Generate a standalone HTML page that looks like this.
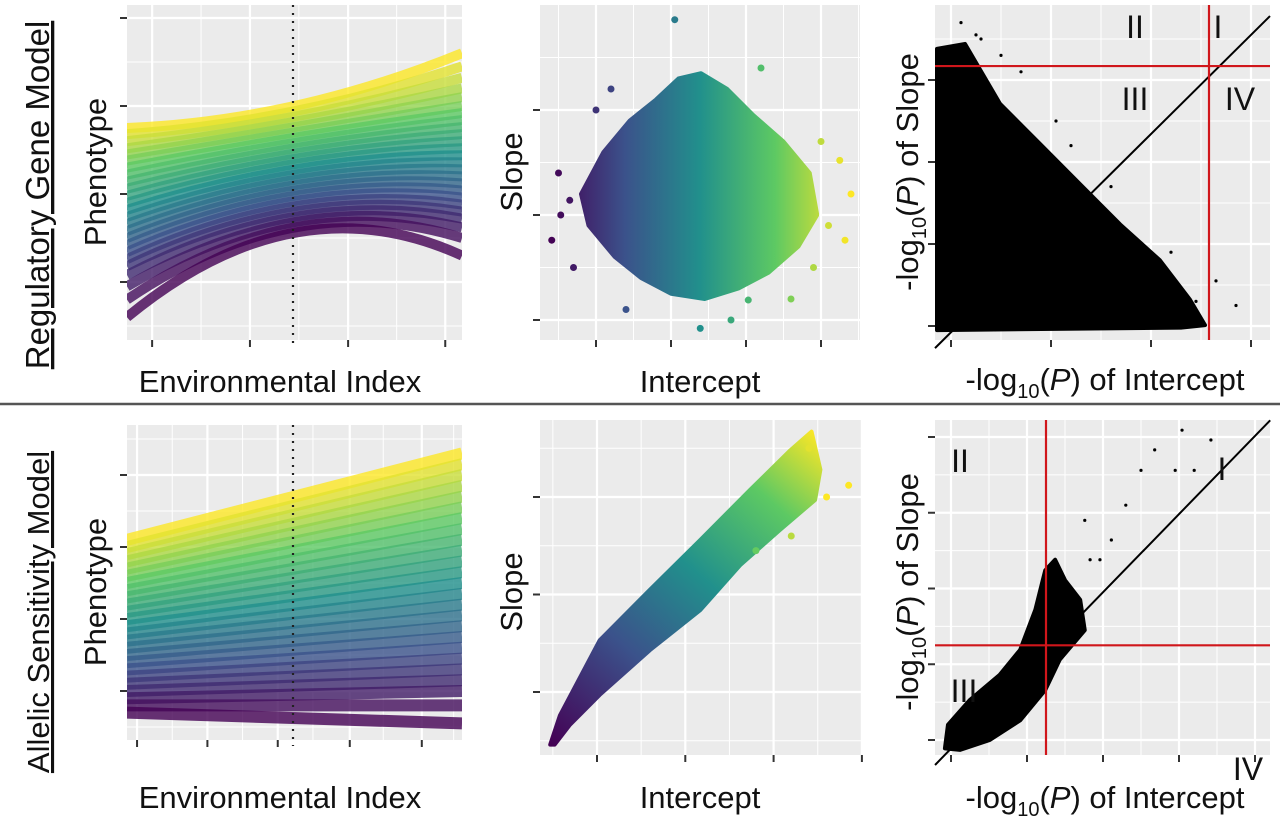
<!DOCTYPE html>
<html><head><meta charset="utf-8"><style>
html,body{margin:0;padding:0;background:#fff}
svg{display:block;font-family:"Liberation Sans",sans-serif}
</style></head><body>
<svg id="fig" width="1280" height="819" viewBox="0 0 1280 819">
<defs>
<linearGradient id="gB" x1="550" y1="0" x2="850" y2="0" gradientUnits="userSpaceOnUse">
<stop offset="0" stop-color="#440154"/><stop offset="0.25" stop-color="#3b528b"/><stop offset="0.5" stop-color="#21908c"/><stop offset="0.75" stop-color="#5dc963"/><stop offset="1" stop-color="#fde725"/></linearGradient>
<linearGradient id="gE" x1="550" y1="745" x2="820" y2="435" gradientUnits="userSpaceOnUse">
<stop offset="0" stop-color="#440154"/><stop offset="0.3" stop-color="#3b528b"/><stop offset="0.55" stop-color="#21908c"/><stop offset="0.8" stop-color="#5dc963"/><stop offset="1" stop-color="#fde725"/></linearGradient>
</defs>
</svg>
<script>
// ---- data ----
const aMid=[2.0,1.94,1.88,1.82,1.76,1.7,1.64,1.58,1.52,1.46,1.4,1.34,1.28,1.22,1.16,1.1,1.04,0.98,0.92,0.86,0.8,0.74,0.68,0.62,0.56];
const aLeft=[1.75,1.68,1.6,1.52,1.45,1.38,1.3,1.22,1.14,1.06,0.98,0.9,0.82,0.74,0.66,0.58,0.5,0.42,0.34,0.26,0.18,0.08,-0.05,-0.2,-0.4];
const aRight=[2.6,2.45,2.32,2.2,2.1,2.0,1.92,1.84,1.76,1.68,1.6,1.52,1.44,1.36,1.28,1.2,1.12,1.04,0.96,0.88,0.8,0.72,0.62,0.5,0.3];
const dLeft=[2.1,2.0,1.9,1.8,1.7,1.6,1.5,1.4,1.3,1.2,1.1,1.0,0.9,0.8,0.7,0.6,0.5,0.4,0.3,0.2,0.1,0.0,-0.1,-0.2,-0.3];
const dRight=[3.3,3.15,3.0,2.85,2.7,2.55,2.4,2.25,2.1,1.95,1.8,1.65,1.5,1.35,1.2,1.05,0.9,0.75,0.6,0.45,0.3,0.15,0.0,-0.2,-0.45];
const bHullX=[-0.2,0.1,0.45,0.8,1.1,1.4,1.75,2.1,2.5,2.85,2.95,2.7,2.3,1.9,1.45,1.0,0.6,0.25,-0.1];
const bHullY=[1.2,1.6,1.9,2.1,2.3,2.35,2.2,1.95,1.7,1.4,1.0,0.7,0.45,0.3,0.2,0.25,0.4,0.6,0.9];
const bOutX=[1.05,-0.59,-0.35,3.32,3.25,2.03,1.39,-0.47,3.1,-0.5,0.2,2.9,3.0,2.6,0.4,1.8,-0.3,3.4,2.2,0.0];
const bOutY=[2.86,0.76,1.14,0.76,1.52,0.19,-0.08,1.0,0.9,1.4,2.2,0.5,1.7,0.2,0.1,0.0,0.5,1.2,2.4,2.0];
const eHullX=[-0.53,-0.42,0.03,0.6,1.17,1.73,2.19,2.43,2.53,2.47,2.07,1.62,1.17,0.6,0.03,-0.31,-0.48];
const eHullY=[-0.54,-0.24,0.53,1.05,1.56,2.07,2.48,2.67,2.28,1.97,1.66,1.30,0.84,0.43,-0.03,-0.34,-0.54];
const eOutX=[2.85,2.4,2.2,1.8,2.6];
const eOutY=[2.12,2.5,1.6,1.45,2.0];
const cHullX=[-0.14,0.14,0.49,0.89,1.29,1.69,2.09,2.39,2.54,2.3,-0.14];
const cHullY=[3.38,3.44,2.71,2.22,1.73,1.24,0.8,0.32,0.01,-0.02,-0.05];
const cOutX=[0.3,0.5,0.7,1.2,1.6,1.9,2.2,2.45,2.65,2.85,0.1,0.25,1.05];
const cOutY=[3.5,3.3,3.1,2.2,1.7,1.0,0.9,0.3,0.55,0.25,3.7,3.55,2.5];
const cDiagX=[-0.16,3.19], cDiagY=[-0.27,3.78], cRedX=2.58, cRedY=3.17;
const fHullX=[-0.08,-0.04,0.25,0.64,0.91,1.11,1.24,1.37,1.5,1.7,1.76,1.43,1.24,0.91,0.51,0.12];
const fHullY=[-0.11,0.2,0.53,0.86,1.19,1.72,2.24,2.38,2.11,1.85,1.45,1.06,0.66,0.26,0.0,-0.13];
const fOutX=[1.64,1.83,2.11,2.3,2.5,2.68,2.95,3.2,3.42,3.04,1.96,1.76];
const fOutY=[1.85,2.38,2.64,3.1,3.56,3.83,3.56,3.56,3.96,4.09,2.38,2.9];
const fDiagX=[-0.21,4.2], fDiagY=[-0.33,4.22], fRedX=1.25, fRedY=1.25;

const NS='http://www.w3.org/2000/svg', svg=document.getElementById('fig');
function mk(t,a,p){const e=document.createElementNS(NS,t);for(const k in a)e.setAttribute(k,a[k]);(p||svg).appendChild(e);return e;}
const stops=[[68,1,84],[59,82,139],[33,144,140],[93,201,99],[253,231,37]];
function vir(t){t=Math.max(0,Math.min(1,t))*4;const i=Math.min(3,Math.floor(t)),f=t-i,a=stops[i],b=stops[i+1];return `rgb(${a.map((v,j)=>Math.round(v+(b[j]-v)*f)).join(',')})`;}
function lin(d0,d1,r0,r1){return v=>r0+(v-d0)/(d1-d0)*(r1-r0);}

function panel(name,x0,x1,y0,y1,xs,ys,xt,yt){
  const g=mk('g',{});
  mk('rect',{x:x0,y:y0,width:x1-x0,height:y1-y0,fill:'#ebebeb'},g);
  const xp=xt.map(xs),yp=yt.map(ys);
  const dx=xp[1]-xp[0],dy=yp[1]-yp[0];
  for(let k=-2;k<xp.length+2;k++){const m=xp[0]+dx*(k+0.5);if(m>x0&&m<x1)mk('line',{x1:m,x2:m,y1:y0,y2:y1,stroke:'#fff','stroke-width':1},g);}
  for(let k=-2;k<yp.length+2;k++){const m=yp[0]+dy*(k+0.5);if(m>y0&&m<y1)mk('line',{y1:m,y2:m,x1:x0,x2:x1,stroke:'#fff','stroke-width':1},g);}
  xp.forEach(p=>{if(p>=x0&&p<=x1)mk('line',{x1:p,x2:p,y1:y0,y2:y1,stroke:'#fff','stroke-width':2.2},g);mk('line',{x1:p,x2:p,y1:y1,y2:y1+7,stroke:'#333','stroke-width':2},g);});
  yp.forEach(p=>{if(p>=y0&&p<=y1)mk('line',{y1:p,y2:p,x1:x0,x2:x1,stroke:'#fff','stroke-width':2.2},g);mk('line',{y1:p,y2:p,x1:x0-7,x2:x0,stroke:'#333','stroke-width':2},g);});
  const clip=mk('clipPath',{id:'c'+name});mk('rect',{x:x0,y:y0,width:x1-x0,height:y1-y0},clip);
  const inner=mk('g',{'clip-path':`url(#c${name})`},g);
  return inner;
}
function txt(s,x,y,opt){const t=mk('text',Object.assign({x:x,y:y,'font-size':31,fill:'#111','text-anchor':'middle'},opt||{}));t.innerHTML=s;return t;}
function hull(g,X,Y,xs,ys,fill,name){const p=mk('polygon',{points:X.map((v,i)=>xs(v)+','+ys(Y[i])).join(' '),fill:fill,stroke:fill,'stroke-width':4,'stroke-linejoin':'round'},g);}
function dots(g,X,Y,xs,ys,r,col,name){X.forEach((v,i)=>{const c=mk('circle',{cx:xs(v),cy:ys(Y[i]),r:r,fill:typeof col==='function'?col(v):col},g);});}
const logS='-log<tspan font-size="20" dy="8">10</tspan><tspan dy="-8">(</tspan><tspan font-style="italic">P</tspan>)';

// ---- Panel A ----
{const xs=lin(0,1,127,462),ys=lin(0,1,282,194);
 const g=panel('panel-a-lines',127,462,5,340,xs,ys,[0.075,0.367,0.66,0.95],[0,1,2,3]);
 const n=aMid.length;
 aMid.forEach((m,i)=>{const L=ys(aLeft[i]),M=ys(m),R=ys(aRight[i]),c=2*M-(L+R)/2;
  const p=mk('path',{d:`M127,${L} Q294.5,${c} 462,${R}`,fill:'none',stroke:vir(1-i/(n-1)),'stroke-width':10,'stroke-opacity':0.8},g);
  });
 mk('line',{x1:293,x2:293,y1:5,y2:346,stroke:'#222','stroke-width':2.2,'stroke-dasharray':'2,6'});
 txt('Phenotype',0,0,{transform:'translate(106,172) rotate(-90)'});
 txt('Environmental Index',280,392);}
// ---- Panel B ----
{const xs=lin(0,1,596,671),ys=lin(0,1,320,215);
 const g=panel('panel-b-scatter',540,860,5,340,xs,ys,[0,1,2,3],[0,1,2]);
 hull(g,bHullX,bHullY,xs,ys,'url(#gB)','scatter-cloud');
 dots(g,bOutX,bOutY,xs,ys,3.5,v=>vir((xs(v)-550)/300),'scatter-point');
 txt('Slope',0,0,{transform:'translate(522,172) rotate(-90)'});
 txt('Intercept',700,392);}
// ---- Panel C ----
{const xs=lin(0,1,951,1051),ys=lin(0,1,326,244);
 const g=panel('panel-c-pvalues',935,1270,5,340,xs,ys,[0,1,2,3],[0,1,2,3]);
 hull(g,cHullX,cHullY,xs,ys,'#000','pvalue-cloud');
 dots(g,cOutX,cOutY,xs,ys,1.6,'#000','pvalue-point');
 mk('line',{x1:xs(cDiagX[0]),y1:ys(cDiagY[0]),x2:xs(cDiagX[1]),y2:ys(cDiagY[1]),stroke:'#000','stroke-width':2});
 mk('line',{x1:935,x2:1270,y1:ys(cRedY),y2:ys(cRedY),stroke:'#d0161b','stroke-width':2.2});
 mk('line',{x1:xs(cRedX),x2:xs(cRedX),y1:5,y2:340,stroke:'#d0161b','stroke-width':2.2});
 txt('II',1135,38,{'font-size':32});txt('I',1218,38,{'font-size':32});txt('III',1135,110,{'font-size':32});txt('IV',1240,110,{'font-size':32});
 txt(logS+' of Slope',0,0,{transform:'translate(918,172) rotate(-90)'});
 txt(logS+' of Intercept',1105,390);}
// ---- Panel D ----
{const xs=lin(0,1,127,462),ys=lin(0,1,691,619);
 const g=panel('panel-d-lines',127,462,425,740,xs,ys,[0.03,0.24,0.45,0.665,0.88],[0,1,2,3]);
 const n=dLeft.length;
 dLeft.forEach((l,i)=>{const p=mk('line',{x1:127,y1:ys(l),x2:462,y2:ys(dRight[i]),stroke:vir(1-i/(n-1)),'stroke-width':12,'stroke-opacity':0.8},g);
  });
 mk('line',{x1:293,x2:293,y1:425,y2:746,stroke:'#222','stroke-width':2.2,'stroke-dasharray':'2,6'});
 txt('Phenotype',0,0,{transform:'translate(106,592) rotate(-90)'});
 txt('Environmental Index',280,808);}
// ---- Panel E ----
{const xs=lin(0,1,597,685.3),ys=lin(0,1,692,594.5);
 const g=panel('panel-e-scatter',540,862,420,755,xs,ys,[0,1,2,3],[0,1,2]);
 hull(g,eHullX,eHullY,xs,ys,'url(#gE)','scatter-cloud');
 dots(g,eOutX,eOutY,xs,ys,3.5,v=>vir((xs(v)-550)/270),'scatter-point');
 txt('Slope',0,0,{transform:'translate(522,592) rotate(-90)'});
 txt('Intercept',700,808);}
// ---- Panel F ----
{const xs=lin(0,1,951,1027),ys=lin(0,1,740,664.25);
 const g=panel('panel-f-pvalues',935,1270,420,755,xs,ys,[0,1,2,3,4],[0,1,2,3,4]);
 hull(g,fHullX,fHullY,xs,ys,'#000','pvalue-cloud');
 dots(g,fOutX,fOutY,xs,ys,1.6,'#000','pvalue-point');
 mk('line',{x1:xs(fDiagX[0]),y1:ys(fDiagY[0]),x2:xs(fDiagX[1]),y2:ys(fDiagY[1]),stroke:'#000','stroke-width':2});
 mk('line',{x1:935,x2:1270,y1:ys(fRedY),y2:ys(fRedY),stroke:'#d0161b','stroke-width':2.2});
 mk('line',{x1:xs(fRedX),x2:xs(fRedX),y1:420,y2:755,stroke:'#d0161b','stroke-width':2.2});
 txt('II',960,472,{'font-size':32});txt('I',1222,480,{'font-size':32});txt('III',964,702,{'font-size':32});txt('IV',1248,780,{'font-size':32});
 txt(logS+' of Slope',0,0,{transform:'translate(918,592) rotate(-90)'});
 txt(logS+' of Intercept',1105,808);}
// row labels & divider
txt('<tspan text-decoration="underline">Regulatory Gene Model</tspan>',0,0,{transform:'translate(49,195) rotate(-90)','font-size':33});
txt('<tspan text-decoration="underline">Allelic Sensitivity Model</tspan>',0,0,{transform:'translate(49,612) rotate(-90)','font-size':31});
mk('line',{x1:0,x2:1280,y1:404,y2:404,stroke:'#555','stroke-width':2.5});
</script>
</body></html>
